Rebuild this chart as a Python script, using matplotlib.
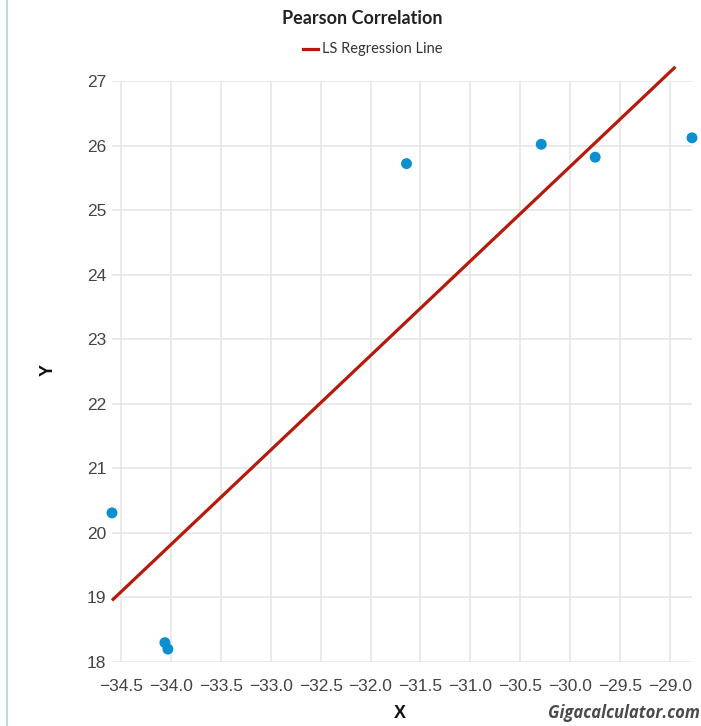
import numpy as np
import matplotlib
matplotlib.use("Agg")
import matplotlib.pyplot as plt
from matplotlib.lines import Line2D

# scatter data
x_vals = [-34.59, -34.06, -34.03, -31.64, -30.29, -29.75, -28.78]
y_vals = [20.31, 18.30, 18.20, 25.72, 26.02, 25.82, 26.12]

x_ticks = [-34.5, -34.0, -33.5, -33.0, -32.5, -32.0, -31.5, -31.0, -30.5, -30.0, -29.5, -29.0]
y_ticks = [18, 19, 20, 21, 22, 23, 24, 25, 26, 27]

title = "Pearson Correlation"
legend_label = "LS Regression Line"

point_color = "#0b8fd0"
line_color = "#b51a0c"
grid_color = "#e6e6e6"
text_color = "#444444"

plt.rcParams['font.family'] = ['Liberation Sans', 'DejaVu Sans']

fig = plt.figure(figsize=(7.01, 7.26), dpi=100)
# axes spans the 18..27 grid; the line may run a bit above it
ax = fig.add_axes([112 / 701, 64 / 726, 580 / 701, 581 / 726])

# least squares line, cut where it leaves the drawing area (y ~ 27.22)
slope, intercept = np.polyfit(x_vals, y_vals, 1)
y_top = 27.22
x0 = min(x_vals)
x1 = min(max(x_vals), (y_top - intercept) / slope)
xs = np.array([x0, x1])
ax.plot(xs, slope * xs + intercept, color=line_color, lw=2.3, zorder=3,
        solid_capstyle='butt', clip_on=False)

ax.scatter(x_vals, y_vals, s=62, color=point_color, edgecolors='none', zorder=4,
           clip_on=False)

ax.set_xlim(min(x_vals), max(x_vals))
ax.set_ylim(18, 27)
ax.set_xticks(x_ticks)
ax.set_xticklabels([f"\u2212{abs(v):.1f}" for v in x_ticks])
ax.set_yticks(y_ticks)
ax.set_yticklabels([str(v) for v in y_ticks])

ax.grid(True, color=grid_color, lw=1.2)
ax.set_axisbelow(True)
for s in ax.spines.values():
    s.set_visible(False)
ax.tick_params(axis='both', length=0, labelsize=12.5, colors=text_color)
ax.tick_params(axis='x', pad=12)
ax.tick_params(axis='y', pad=4)

fig.text(362 / 701, 1 - 19 / 726, title, ha='center', va='center',
         fontsize=13, fontweight='bold', color='#222222', family='Lato')

# legend entry
fig.add_artist(Line2D([303 / 701, 318 / 701], [1 - 49 / 726, 1 - 49 / 726],
                      color=line_color, lw=2.3))
fig.text(322 / 701, 1 - 49 / 726, legend_label, ha='left', va='center',
         fontsize=10.5, color='#333333', family='Lato')

fig.text(400 / 701, 1 - 714 / 726, "X", ha='center', va='center',
         fontsize=13, fontweight='bold', color='#111111')
fig.text(48 / 701, 1 - 370 / 726, "Y", ha='center', va='center', rotation=90,
         fontsize=13, fontweight='bold', color='#111111')
fig.text(700 / 701, 1 - 713 / 726, "Gigacalculator.com", ha='right', va='center',
         fontsize=12, fontstyle='italic', fontweight='bold', color='#4a4a4a',
         family='Open Sans')

# thin blue border on the left edge
fig.add_artist(Line2D([6.5 / 701, 6.5 / 701], [0, 1], color='#a9d5e6', lw=1.2))

fig.savefig("out.png", dpi=100)
